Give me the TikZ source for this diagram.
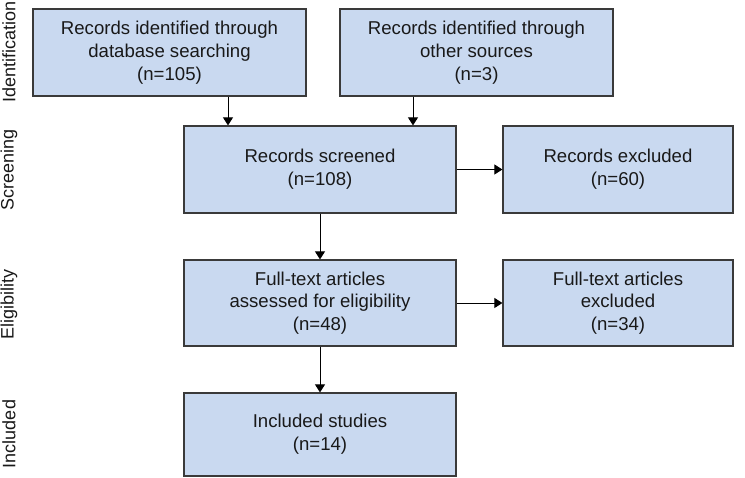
\documentclass[tikz,border=0pt]{standalone}
\usepackage{fontspec}
\setmainfont{Liberation Sans}
\usetikzlibrary{arrows.meta}
\definecolor{boxfill}{RGB}{201,217,240}
\definecolor{boxline}{RGB}{58,58,58}
\tikzset{
  flowbox/.style={draw=boxline, line width=1.2pt, fill=boxfill, inner sep=0pt, align=center,
    font=\fontsize{18.6}{22.7}\selectfont, text=black!90},
  flowarrow/.style={draw=black, line width=0.9pt, -{Triangle[length=8pt,width=10pt]}},
  stagelabel/.style={rotate=90, font=\fontsize{18}{20}\selectfont, text=black!90, inner sep=0pt}
}
\newcommand{\mkbox}[6]{%
  \node[flowbox, minimum width={#4-#2}, minimum height={#5-#3}] (#1) at ({(#2+#4)/2},{-(#3+#5)/2}) {#6};}
\begin{document}
\begin{tikzpicture}[x=1pt,y=1pt]
\useasboundingbox (0,0) rectangle (745,-478);
\mkbox{b1}{33}{9}{306}{96}{Records identified through\\database searching\\(n=105)}
\mkbox{b2}{340}{9}{613}{96}{Records identified through\\other sources\\(n=3)}
\mkbox{b3}{184}{126}{456}{213}{Records screened\\(n=108)}
\mkbox{b4}{503}{126}{733}{213}{Records excluded\\(n=60)}
\mkbox{b5}{184}{260}{456}{346}{Full-text articles\\assessed for eligibility\\(n=48)}
\mkbox{b6}{503}{260}{733}{346}{Full-text articles\\excluded\\(n=34)}
\mkbox{b7}{184}{393}{456}{476}{Included studies\\(n=14)}

\node[stagelabel] (l1) at (9,-52) {Identification};
\node[stagelabel] (l2) at (9,-170) {Screening};
\node[stagelabel] (l3) at (9,-304) {Eligibility};
\node[stagelabel] (l4) at (9,-434) {Included};

\draw[flowarrow] ([xshift=-92pt]b3.north |- b1.south) -- ([xshift=-92pt]b3.north);
\draw[flowarrow] ([xshift=93pt]b3.north |- b2.south) -- ([xshift=93pt]b3.north);
\draw[flowarrow] (b3.east) -- (b4.west);
\draw[flowarrow] (b3.south) -- (b5.north);
\draw[flowarrow] (b5.east) -- (b6.west);
\draw[flowarrow] (b5.south) -- (b7.north);
\end{tikzpicture}
\end{document}
